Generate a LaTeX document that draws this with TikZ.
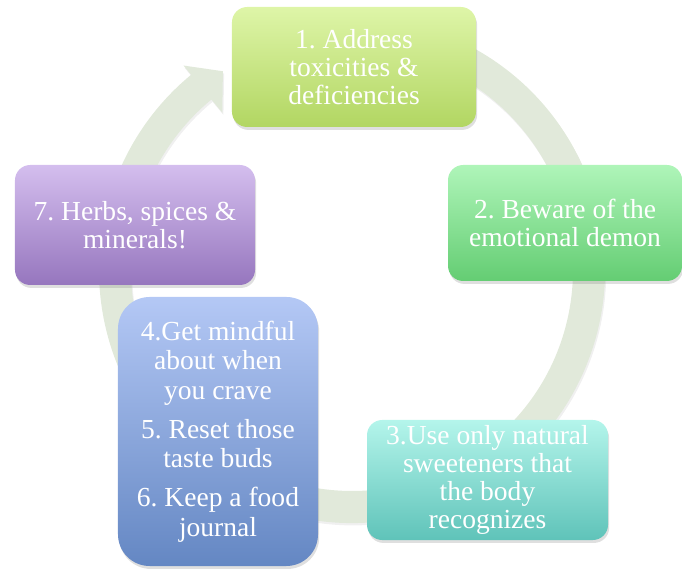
\documentclass[tikz,border=0pt]{standalone}
\usepackage{fontspec}
\setmainfont{Liberation Serif}
\usetikzlibrary{shadows}
\frenchspacing

\definecolor{ringgreen}{HTML}{E1E9DA}
\definecolor{limetop}{HTML}{DEF5A8}
\definecolor{limebot}{HTML}{B2D662}
\definecolor{greentop}{HTML}{AFF5B9}
\definecolor{greenbot}{HTML}{64CD73}
\definecolor{tealtop}{HTML}{B4F5EB}
\definecolor{tealbot}{HTML}{5FC3B9}
\definecolor{bluetop}{HTML}{B4C8F5}
\definecolor{bluebot}{HTML}{6487C3}
\definecolor{lilactop}{HTML}{D4BEEE}
\definecolor{lilacbot}{HTML}{9676BE}

\begin{document}
\begin{tikzpicture}[
    x=0.03cm, y=0.03cm,
    stage/.style={rounded corners=13pt, align=center, text=white, inner sep=0pt,
        font=\fontsize{23.5}{24}\selectfont, shading=axis,
        drop shadow={opacity=0.25, shadow xshift=1pt, shadow yshift=-2.5pt}},
    ring/.style={fill=ringgreen,
        drop shadow={opacity=0.12, shadow xshift=1pt, shadow yshift=-2pt}}
]
   \useasboundingbox (0,0) rectangle (682,569);

   % Ring arrow
   \coordinate (ctr) at (352,299);
   \fill[ring, shift={(ctr)}] (110:253) arc[start angle=110, end angle=-230.5, radius=253]
      -- (129.5:265) -- (123:237) -- (129.5:204) -- (129.5:221)
      arc[start angle=129.5, end angle=470, radius=221] -- cycle;

   % Stages
   \node[stage, top color=limetop, bottom color=limebot,
         minimum width=7.32cm, minimum height=3.6cm] (s1) at (354,502)
         {1. Address\\toxicities \&\\deficiencies};
   \node[stage, top color=greentop, bottom color=greenbot,
         minimum width=7.02cm, minimum height=3.48cm] (s2) at (565,346)
         {2. Beware of the\\emotional demon};
   \node[stage, top color=tealtop, bottom color=tealbot,
         minimum width=7.23cm, minimum height=3.6cm] (s3) at (487.5,89)
         {3.Use only natural\\sweeteners that\\the body\\recognizes};
   \node[stage, top color=bluetop, bottom color=bluebot, rounded corners=27pt,
         font=\fontsize{23.5}{25}\selectfont,
         minimum width=6cm, minimum height=8.07cm] (s4) at (218,137.5)
         {4.Get mindful\\about when\\you crave\\[8.5pt]5. Reset those\\taste buds\\[8.5pt]6. Keep a food\\journal};
   \node[stage, top color=lilactop, bottom color=lilacbot,
         minimum width=7.2cm, minimum height=3.6cm] (s7) at (135,344)
         {7. Herbs, spices \&\\minerals!};
\end{tikzpicture}
\end{document}
